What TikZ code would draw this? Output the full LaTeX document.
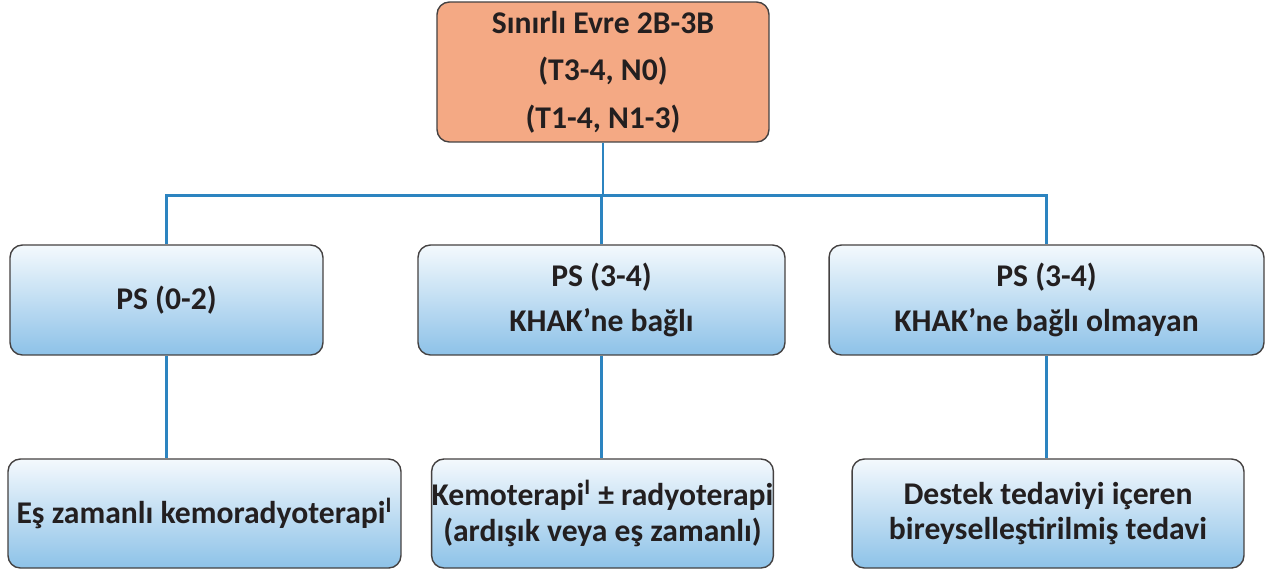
\documentclass[tikz,border=0pt]{standalone}
\usepackage{fontspec}
\setmainfont{Carlito}
\usetikzlibrary{calc}
\definecolor{evreink}{HTML}{231F20}
\definecolor{evreline}{HTML}{2C84C0}
\definecolor{evrefill}{HTML}{F4A984}
\definecolor{evretop}{HTML}{F4F9FD}
\definecolor{evrebot}{HTML}{8DC2E8}

\begin{document}
\begin{tikzpicture}[
  x=0.02cm, y=-0.02cm,
  font=\bfseries,
  stagebox/.style={
    draw=evreink!85, fill=evrefill, text=evreink, line width=0.8pt,
    rounded corners=7pt, align=center, font=\fontsize{18}{27}\selectfont\bfseries,
    minimum width=6.64cm, minimum height=2.8cm, inner sep=2pt
  },
  psbox/.style={
    draw=evreink!85, top color=evretop, bottom color=evrebot, text=evreink, line width=0.8pt,
    rounded corners=7pt, align=center, font=\fontsize{18}{26}\selectfont\bfseries,
    minimum height=2.2cm, inner sep=2pt
  },
  txbox/.style={
    draw=evreink!85, top color=evretop, bottom color=evrebot, text=evreink, line width=0.8pt,
    rounded corners=7pt, align=center, font=\fontsize{18}{20}\selectfont\bfseries,
    minimum height=2.18cm, inner sep=0pt
  },
  link/.style={draw=evreline, line width=1.7pt},
]
\useasboundingbox (0,0) rectangle (1275,576);

% ---- stage ----
\node[stagebox] (stage) at (603,72) {S\i n\i rl\i{} Evre 2B-3B\\ (T3-4, N0)\\ (T1-4, N1-3)};

% ---- performance status row ----
\node[psbox, minimum width=6.26cm] (psA) at (166.5,300) {PS (0-2)};
\node[psbox, minimum width=7.34cm] (psB) at (601.5,300) {PS (3-4)\\ KHAK’ne bağlı};
\node[psbox, minimum width=8.70cm] (psC) at (1046.5,300) {PS (3-4)\\ KHAK’ne bağlı olmayan};

% ---- treatment row ----
\node[txbox, minimum width=7.86cm] (txA) at (204.5,513.5) {Eş zamanlı kemoradyoterapi\textsuperscript{I}};
\node[txbox, minimum width=6.82cm] (txB) at (602.5,513.5) {Kemoterapi\textsuperscript{I} ± radyoterapi\\ (ardışık veya eş zamanlı)};
\node[txbox, minimum width=7.84cm] (txC) at (1048,513.5) {Destek tedaviyi içeren\\ bireyselleştirilmiş tedavi};

% ---- connectors ----
\coordinate (bus) at (603,195);
\draw[link] (stage.south) -- (bus);
\draw[link] (psA.north) |- (bus) -| (psC.north);
\draw[link] (psB.north) -- (psB.north |- bus);
\draw[link] (psA.south) -- (psA.south |- txA.north);
\draw[link] (psB.south) -- (psB.south |- txB.north);
\draw[link] (psC.south) -- (psC.south |- txC.north);

\end{tikzpicture}
\end{document}
